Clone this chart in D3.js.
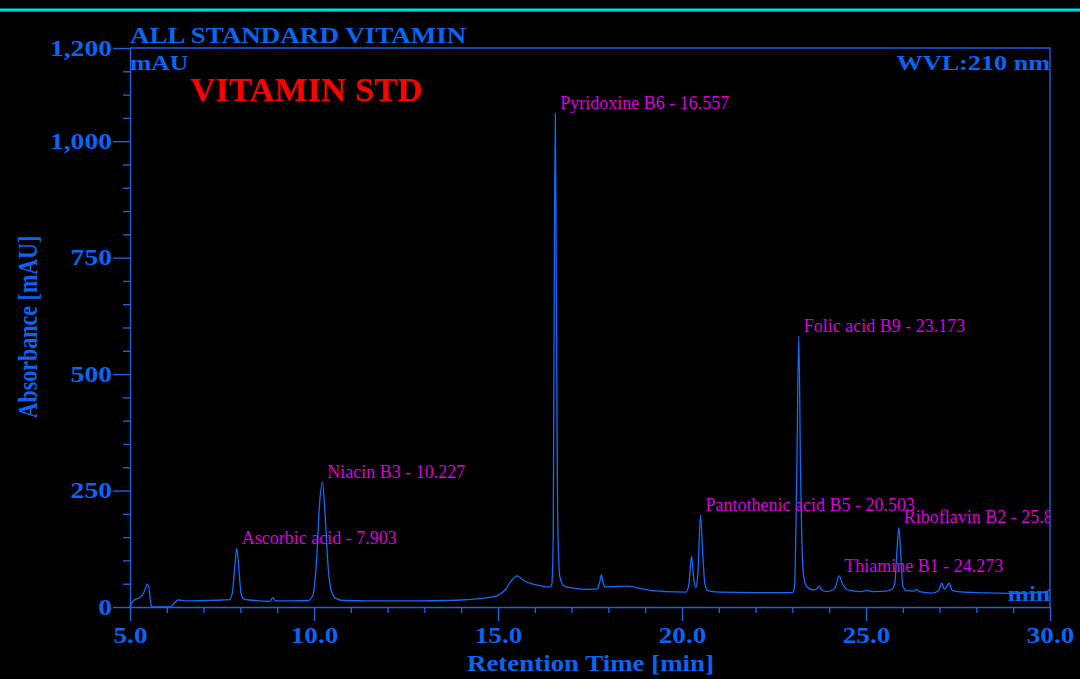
<!DOCTYPE html>
<html>
<head>
<meta charset="utf-8">
<script src="https://cdn.jsdelivr.net/npm/d3@7"></script>
<style>
  html, body { margin: 0; padding: 0; background: #000; }
  svg { display: block; }
</style>
</head>
<body>
<svg id="chart" width="1080" height="679"></svg>
<script>
// Chromatogram trace: retention time (min) and absorbance (mAU)
const traceTime = [
  5.00, 5.04, 5.10, 5.25, 5.34, 5.40, 5.47, 5.52, 5.56, 5.59,
  6.09, 6.20, 6.31, 6.50, 7.00, 7.50, 7.70, 7.78, 7.84, 7.903,
  7.96, 8.02, 8.10, 8.40, 8.80, 8.88, 8.95, 9.40, 9.85, 9.97,
  10.07, 10.15, 10.227, 10.30, 10.38, 10.47, 10.60, 10.80, 11.5, 12.5,
  13.5, 14.0, 14.5, 14.8, 15.0, 15.2, 15.35, 15.52, 15.70, 15.95,
  16.20, 16.40, 16.46, 16.50, 16.53, 16.557, 16.585, 16.62, 16.68, 16.80,
  17.10, 17.50, 17.70, 17.76, 17.81, 17.86, 17.92, 18.20, 18.50, 18.80,
  19.10, 19.60, 20.10, 20.18, 20.26, 20.32, 20.38, 20.43, 20.503, 20.56,
  20.62, 20.70, 21.0, 22.0, 23.0, 23.06, 23.12, 23.173, 23.22, 23.28,
  23.35, 23.45, 23.55, 23.65, 23.73, 23.80, 23.95, 24.15, 24.273, 24.36,
  24.50, 24.70, 24.85, 25.00, 25.20, 25.55, 25.70, 25.78, 25.84, 25.893,
  25.94, 26.00, 26.10, 26.30, 26.38, 26.45, 26.80, 26.97, 27.06, 27.13,
  27.20, 27.26, 27.34, 27.50, 28.00, 28.50, 29.00, 29.50, 29.85, 30.00
];
const traceAbs = [
  0, 8, 14, 20, 26, 36, 49, 38, 10, 0,
  0, 8, 15, 13, 14, 15, 16, 30, 80, 126,
  80, 28, 17, 14, 12, 20, 13, 13, 14, 25,
  100, 220, 268, 200, 90, 35, 18, 14, 13, 13,
  14, 15, 18, 21, 25, 37, 55, 67, 57, 49,
  45, 43, 48, 150, 700, 1060, 700, 200, 65, 45,
  40, 38, 39, 52, 69, 50, 43, 44, 45, 41,
  36, 33, 32, 45, 109, 60, 42, 70, 197, 120,
  50, 35, 32, 31, 31, 45, 300, 582, 300, 90,
  50, 40, 37, 38, 45, 36, 33, 40, 67, 50,
  37, 34, 33, 35, 33, 34, 38, 48, 120, 171,
  120, 45, 35, 34, 38, 33, 30, 35, 51, 38,
  45, 51, 36, 33, 31, 30, 29, 30, 31, 38
];

// Identified peaks
const peakNames   = ["Ascorbic acid", "Niacin B3", "Pyridoxine B6", "Pantothenic acid B5",
                     "Folic acid B9", "Thiamine B1", "Riboflavin B2"];
const peakTimes   = [7.903, 10.227, 16.557, 20.503, 23.173, 24.273, 25.893];
const peakHeights = [126, 268, 1060, 197, 582, 67, 171];

// Axis ticks
const xDomain = [5, 30];
const yDomain = [0, 1200];
const xMajorTicks = [5, 10, 15, 20, 25, 30];
const xMinorTicks = [6, 7, 8, 9, 11, 12, 13, 14, 16, 17, 18, 19, 21, 22, 23, 24, 26, 27, 28, 29];
const yMajorTicks = [0, 250, 500, 750, 1000, 1200];
const yMinorTicks = d3.range(0, 1201, 50).filter(v => !yMajorTicks.includes(v));

// Styling
const SERIF = "'Liberation Serif', 'Times New Roman', serif";
const lineBlue = "#1f5fe0";
const textBlue = "#0a64f4";
const traceBlue = "#0c6cff";
const magenta = "#dc00dc";
const plot = { left: 130, right: 1050, top: 48, bottom: 607 };

const svg = d3.select("#chart");
svg.append("rect").attr("width", 1080).attr("height", 679).attr("fill", "#000");

// cyan rule across the top of the window
svg.append("line")
  .attr("x1", 0).attr("x2", 1080).attr("y1", 10).attr("y2", 10)
  .attr("stroke", "#00dde6").attr("stroke-width", 3);

const x = d3.scaleLinear().domain(xDomain).range([plot.left, plot.right]);
const y = d3.scaleLinear().domain(yDomain).range([plot.bottom, plot.top]);

// frame: top and right borders
svg.append("path")
  .attr("d", `M${plot.left},${plot.top}H${plot.right}V${plot.bottom}`)
  .attr("fill", "none").attr("stroke", lineBlue).attr("stroke-width", 1.4);

function styleAxis(g) {
  g.selectAll("path.domain").attr("stroke", lineBlue).attr("stroke-width", 1.4);
  g.selectAll(".tick line").attr("stroke", lineBlue).attr("stroke-width", 1.4);
  g.selectAll(".tick text")
    .attr("fill", textBlue)
    .style("font-family", SERIF)
    .style("font-weight", "bold")
    .style("font-size", "23px");
}

// Y axis
const yAxisG = svg.append("g").attr("transform", `translate(${plot.left},0)`)
  .call(d3.axisLeft(y).tickValues(yMajorTicks).tickSize(17).tickSizeOuter(0)
    .tickPadding(1).tickFormat(d3.format(",")));
styleAxis(yAxisG);
yAxisG.selectAll(".tick text").each(function () {
  const tx = +this.getAttribute("x");
  d3.select(this).attr("x", 0).attr("transform", `translate(${tx},0) scale(1.2,1)`);
});
const yMinorG = svg.append("g").attr("transform", `translate(${plot.left},0)`)
  .call(d3.axisLeft(y).tickValues(yMinorTicks).tickSize(7).tickSizeOuter(0).tickFormat(() => ""));
yMinorG.select("path.domain").remove();
styleAxis(yMinorG);

// X axis
const xAxisG = svg.append("g").attr("transform", `translate(0,${plot.bottom})`)
  .call(d3.axisBottom(x).tickValues(xMajorTicks).tickSize(14).tickSizeOuter(0)
    .tickPadding(6).tickFormat(d3.format(".1f")));
styleAxis(xAxisG);
xAxisG.selectAll(".tick text").attr("transform", "scale(1.18,1)");
const xMinorG = svg.append("g").attr("transform", `translate(0,${plot.bottom})`)
  .call(d3.axisBottom(x).tickValues(xMinorTicks).tickSize(6).tickSizeOuter(0).tickFormat(() => ""));
xMinorG.select("path.domain").remove();
styleAxis(xMinorG);

// chromatogram trace
const trace = traceTime.map((t, i) => [t, traceAbs[i]]);
svg.append("path")
  .datum(trace)
  .attr("fill", "none")
  .attr("stroke", traceBlue)
  .attr("stroke-width", 1.3)
  .attr("stroke-linejoin", "round")
  .attr("d", d3.line().x(d => x(d[0])).y(d => y(d[1])).curve(d3.curveMonotoneX));

// peak labels, clipped to the plot area
svg.append("clipPath").attr("id", "plotClip")
  .append("rect").attr("x", plot.left).attr("y", 0)
  .attr("width", plot.right - plot.left).attr("height", 679);
const fmtTime = d3.format(".3f");
svg.append("g").attr("clip-path", "url(#plotClip)")
  .selectAll("text")
  .data(peakNames.map((n, i) => ({ name: n, t: peakTimes[i], h: peakHeights[i] })))
  .join("text")
  .attr("x", d => x(d.t) + 5)
  .attr("y", d => y(d.h) - 4)
  .attr("fill", magenta)
  .style("font-family", SERIF)
  .style("font-size", "18px")
  .text(d => `${d.name} - ${fmtTime(d.t)}`);

// stretched bold text helper
function label(str, px, py, size, opts = {}) {
  const sx = opts.sx || 1.2;
  return svg.append("text")
    .attr("transform", `translate(${px},${py}) scale(${sx},1)`)
    .attr("text-anchor", opts.anchor || "start")
    .attr("fill", opts.fill || textBlue)
    .style("font-family", SERIF)
    .style("font-weight", opts.weight || "bold")
    .style("font-size", size + "px")
    .text(str);
}

label("ALL STANDARD VITAMIN", 130, 43, 23.3, { sx: 1.16 });
label("mAU", 130, 69.5, 21, { sx: 1.22 });
label("WVL:210 nm", 1050, 70, 22, { sx: 1.19, anchor: "end" });
label("VITAMIN STD", 190, 101, 33, { sx: 1.055, fill: "#ff0000" });
label("min", 1050, 601, 22, { sx: 1.15, anchor: "end" });
label("Retention Time [min]", 590.5, 671, 23, { sx: 1.17, anchor: "middle" });

// rotated y-axis title
svg.append("text")
  .attr("transform", "translate(37,327) rotate(-90) scale(1,1.2)")
  .attr("text-anchor", "middle")
  .attr("fill", textBlue)
  .style("font-family", SERIF)
  .style("font-weight", "bold")
  .style("font-size", "22px")
  .text("Absorbance [mAU]");
</script>
</body>
</html>
